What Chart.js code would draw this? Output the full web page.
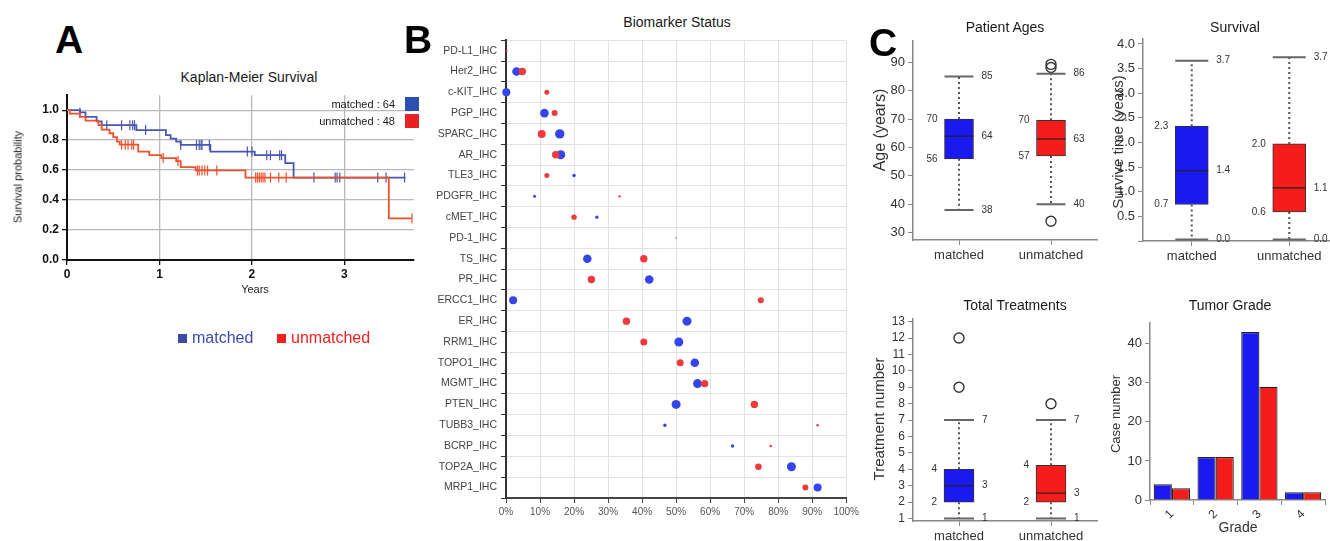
<!DOCTYPE html>
<html>
<head>
<meta charset="utf-8">
<script src="https://cdn.jsdelivr.net/npm/chart.js@4.4.1/dist/chart.umd.min.js"></script>
<style>
  body { margin: 0; width: 1330px; height: 541px; overflow: hidden; background: #fff; position: relative;
         font-family: "Liberation Sans", Arial, sans-serif; }
  canvas { position: absolute; }
  .t { position: absolute; white-space: nowrap; line-height: 1; transform: translate(-50%, -50%); color: #1a1a1a; }
  .r { transform: translate(-50%, -50%) rotate(-90deg); }
  .L { position: absolute; font-weight: bold; font-size: 39px; line-height: 1; color: #000; }
  .sq { position: absolute; }
</style>
</head>
<body>

<canvas id="km" width="420" height="215" style="left:0;top:85px"></canvas>
<canvas id="bio" width="442" height="511" style="left:420px;top:30px"></canvas>
<canvas id="age" width="235" height="240" style="left:870px;top:30px"></canvas>
<canvas id="surv" width="235" height="242" style="left:1105px;top:28px"></canvas>
<canvas id="trt" width="235" height="241" style="left:870px;top:309px"></canvas>
<canvas id="grade" width="225" height="232" style="left:1105px;top:309px"></canvas>

<!-- panel letters -->
<div class="L" style="left:55px;top:20px">A</div>
<div class="L" style="left:404px;top:20px">B</div>
<div class="L" style="left:869px;top:23px">C</div>

<!-- panel A text -->
<div class="t" style="left:249px;top:77px;font-size:14px">Kaplan-Meier Survival</div>
<div class="t r" style="left:18px;top:177px;font-size:11px">Survival probability</div>
<div class="t" style="left:255px;top:289px;font-size:11px">Years</div>
<div class="t" style="left:395px;top:104px;font-size:11px;transform:translate(-100%,-50%)">matched : 64</div>
<div class="t" style="left:395px;top:121px;font-size:11px;transform:translate(-100%,-50%)">unmatched : 48</div>
<div class="sq" style="left:405px;top:97px;width:14px;height:14px;background:#2d4fb0"></div>
<div class="sq" style="left:405px;top:114px;width:14px;height:14px;background:#e82222"></div>
<div class="sq" style="left:178px;top:334px;width:9px;height:9px;background:#3a4ca8"></div>
<div class="t" style="left:192px;top:338px;font-size:16px;color:#3a4ca8;transform:translateY(-50%)">matched</div>
<div class="sq" style="left:277px;top:334px;width:9px;height:9px;background:#ee2020"></div>
<div class="t" style="left:291px;top:338px;font-size:16px;color:#ee2020;transform:translateY(-50%)">unmatched</div>

<!-- panel B text -->
<div class="t" style="left:677px;top:22px;font-size:14px">Biomarker Status</div>

<!-- panel C text -->
<div class="t" style="left:1005px;top:27px;font-size:14px">Patient Ages</div>
<div class="t" style="left:1235px;top:27px;font-size:14px">Survival</div>
<div class="t" style="left:1015px;top:305px;font-size:14px">Total Treatments</div>
<div class="t" style="left:1230px;top:305px;font-size:14px">Tumor Grade</div>
<div class="t r" style="left:880px;top:130px;font-size:16px;color:#333">Age (years)</div>
<div class="t r" style="left:1117px;top:142px;font-size:15px;color:#333">Survive time (years)</div>
<div class="t r" style="left:878px;top:419px;font-size:15px;color:#333">Treatment number</div>
<div class="t r" style="left:1115px;top:414px;font-size:13px;color:#333">Case number</div>
<div class="t" style="left:1238px;top:527px;font-size:14px;color:#333">Grade</div>

<script>
// Kaplan-Meier step curves (years, survival probability)
const kmMatchedT = [0, 0.14, 0.2, 0.32, 0.375, 0.75, 1.07, 1.12, 1.18, 1.23, 1.55, 2.03, 2.36, 2.45, 3.66];
const kmMatchedS = [1.0, 0.985, 0.955, 0.925, 0.90, 0.867, 0.834, 0.81, 0.79, 0.768, 0.724, 0.70, 0.646, 0.55, 0.55];
const kmUnmatchedT = [0, 0.03, 0.14, 0.2, 0.34, 0.375, 0.46, 0.5, 0.54, 0.57, 0.77, 0.89, 1.02, 1.18, 1.23, 1.39, 1.93, 3.48, 3.73];
const kmUnmatchedS = [1.0, 0.977, 0.955, 0.93, 0.90, 0.87, 0.846, 0.82, 0.79, 0.77, 0.724, 0.70, 0.68, 0.66, 0.62, 0.598, 0.55, 0.278, 0.278];
const censorMatched = [0.14, 0.43, 0.59, 0.68, 0.71, 0.73, 0.85, 1.23, 1.40, 1.43, 1.45, 1.46, 1.54, 1.95, 2.0, 2.16, 2.2, 2.3, 2.32, 2.67, 2.9, 2.92, 2.95, 3.36, 3.45, 3.65];
const censorUnmatched = [0.59, 0.63, 0.66, 0.7, 0.72, 1.04, 1.2, 1.41, 1.43, 1.46, 1.49, 1.52, 1.62, 2.04, 2.06, 2.08, 2.1, 2.12, 2.14, 2.2, 2.29, 2.37, 3.73];

// Biomarker status (% positive, bubble size)
const markers = ['PD-L1_IHC', 'Her2_IHC', 'c-KIT_IHC', 'PGP_IHC', 'SPARC_IHC', 'AR_IHC', 'TLE3_IHC', 'PDGFR_IHC',
  'cMET_IHC', 'PD-1_IHC', 'TS_IHC', 'PR_IHC', 'ERCC1_IHC', 'ER_IHC', 'RRM1_IHC', 'TOPO1_IHC', 'MGMT_IHC',
  'PTEN_IHC', 'TUBB3_IHC', 'BCRP_IHC', 'TOP2A_IHC', 'MRP1_IHC'];
const matchedPct = [0, 3.1, 0.1, 11.3, 15.8, 16.1, 20, 8.4, 26.7, 50, 23.9, 42.1, 2.1, 53.2, 50.8, 55.5, 56.3, 50, 46.7, 66.6, 83.9, 91.6];
const matchedSize = [0, 4.3, 4, 4.3, 4.7, 4.5, 1.7, 1.5, 1.7, 0, 4.3, 4.3, 4, 4.5, 4.5, 4.3, 4.5, 4.5, 1.7, 1.7, 4.5, 4];
const unmatchedPct = [0.2, 4.8, 12, 14.3, 10.5, 14.6, 12, 33.4, 20, 50, 40.5, 25.1, 74.9, 35.4, 40.5, 51.2, 58.4, 73, 91.6, 77.8, 74.2, 88];
const unmatchedSize = [1, 3.7, 2.5, 3, 4, 3.7, 2.5, 1.2, 2.7, 0.8, 3.7, 3.7, 3, 3.7, 3.5, 3.5, 3.7, 3.7, 1.3, 1.3, 3.3, 3];

// Box plot groups
const groups = ['matched', 'unmatched'];
const ageLo = [38, 40], ageQ1 = [56, 57], ageMed = [64, 63], ageQ3 = [70, 69.6], ageHi = [85, 86];
const ageOut = [[], [89.3, 88.2, 34]];
const survLo = [0.03, 0.03], survQ1 = [0.74, 0.59], survMed = [1.43, 1.08], survQ3 = [2.33, 1.97], survHi = [3.66, 3.73];
const survOut = [[], []];
const trtLo = [1, 1], trtQ1 = [2, 2], trtMed = [3, 2.55], trtQ3 = [4, 4.25], trtHi = [7, 7];
const trtOut = [[9, 12], [8]];

// Tumor grade counts
const grades = ['1', '2', '3', '4'];
const gradeMatched = [4, 11, 43, 2];
const gradeUnmatched = [3, 11, 29, 2];

Chart.defaults.font.family = '"Liberation Sans", Arial, sans-serif';
Chart.defaults.animation = false;
Chart.defaults.responsive = false;
Chart.defaults.plugins.legend.display = false;
Chart.defaults.plugins.tooltip.enabled = false;

const kmBlue = '#4657b3', kmRed = '#f0502d';
const dotBlue = '#3644ee', dotRed = '#f03a3a';
const boxBlue = '#1a1af0', boxRed = '#f51c1c';

function survAt(T, S, t) {
  let s = S[0];
  for (let i = 0; i < T.length; i++) if (T[i] <= t) s = S[i];
  return s;
}
const steps = (T, S) => T.map((t, i) => ({ x: t, y: S[i] }));
const marks = (C, T, S) => C.map(t => ({ x: t, y: survAt(T, S, t) }));

// ---- A: Kaplan-Meier ----
const kmTicks = { color: '#111', font: { size: 12, weight: 'bold' }, includeBounds: false, maxTicksLimit: 20 };
new Chart(document.getElementById('km'), {
  type: 'scatter',
  data: {
    datasets: [
      { data: marks(censorUnmatched, kmUnmatchedT, kmUnmatchedS), pointStyle: 'line', pointRotation: 90,
        pointRadius: 5, pointBorderColor: kmRed, pointBorderWidth: 1.2, showLine: false },
      { data: steps(kmUnmatchedT, kmUnmatchedS), showLine: true, stepped: 'before', borderColor: kmRed,
        borderWidth: 1.8, pointRadius: 0 },
      { data: marks(censorMatched, kmMatchedT, kmMatchedS), pointStyle: 'line', pointRotation: 90,
        pointRadius: 5, pointBorderColor: kmBlue, pointBorderWidth: 1.2, showLine: false },
      { data: steps(kmMatchedT, kmMatchedS), showLine: true, stepped: 'before', borderColor: kmBlue,
        borderWidth: 1.8, pointRadius: 0 }
    ]
  },
  options: {
    layout: { padding: { top: 10, right: 5 } },
    scales: {
      x: { type: 'linear', min: 0, max: 3.75, afterFit: s => { s.height = 40; },
           ticks: { ...kmTicks, stepSize: 1, padding: 2 },
           grid: { color: '#b8b8b8', lineWidth: 1.3, tickColor: '#111', tickLength: 5 },
           border: { color: '#111', width: 2 } },
      y: { min: 0, max: 1.1, afterFit: s => { s.width = 67; },
           ticks: { ...kmTicks, stepSize: 0.2, padding: 3, callback: v => v.toFixed(1) },
           grid: { color: '#b8b8b8', lineWidth: 1.3, tickColor: '#111', tickLength: 5 },
           border: { color: '#111', width: 2 } }
    }
  }
});

// ---- B: Biomarker bubbles ----
const bubbles = (pct, size) => markers
  .map((m, i) => ({ x: pct[i], y: m, r: size[i] }))
  .filter(p => p.r > 0);
new Chart(document.getElementById('bio'), {
  type: 'bubble',
  data: {
    datasets: [
      { data: bubbles(unmatchedPct, unmatchedSize), backgroundColor: dotRed, borderWidth: 0, clip: false },
      { data: bubbles(matchedPct, matchedSize), backgroundColor: dotBlue, borderWidth: 0, clip: false }
    ]
  },
  options: {
    layout: { padding: { top: 10, right: 14 } },
    scales: {
      x: { type: 'linear', min: 0, max: 100, afterFit: s => { s.height = 43; },
           ticks: { stepSize: 10, callback: v => v + '%', color: '#555', font: { size: 10 }, padding: 3 },
           grid: { color: '#e2e2e2', tickColor: '#444', tickLength: 5 },
           border: { color: '#444', width: 2 } },
      y: { type: 'category', labels: markers, offset: true, afterFit: s => { s.width = 86; },
           ticks: { color: '#444', font: { size: 10.5 }, padding: 4, autoSkip: false },
           grid: { offset: true, color: '#e2e2e2', tickColor: '#333', tickLength: 5 },
           border: { color: '#333', width: 2 } }
    }
  }
});

// ---- C: box plots ----
function whiskers(lo, q1, med, q3, hi, digits) {
  const fmt = v => digits ? v.toFixed(digits) : String(Math.round(v));
  return {
    id: 'whiskers',
    afterDatasetsDraw(chart) {
      const { ctx } = chart;
      const y = chart.scales.y;
      ctx.save();
      chart.getDatasetMeta(0).data.forEach((bar, i) => {
        const x = bar.x, hw = bar.width / 2;
        const pLo = y.getPixelForValue(lo[i]), pHi = y.getPixelForValue(hi[i]);
        const pQ1 = y.getPixelForValue(q1[i]), pQ3 = y.getPixelForValue(q3[i]);
        const pMed = y.getPixelForValue(med[i]);
        ctx.strokeStyle = '#555';
        ctx.lineWidth = 2;
        ctx.setLineDash([2, 3]);
        ctx.beginPath();
        ctx.moveTo(x, pQ3); ctx.lineTo(x, pHi);
        ctx.moveTo(x, pQ1); ctx.lineTo(x, pLo);
        ctx.stroke();
        ctx.setLineDash([]);
        ctx.strokeStyle = '#666';
        ctx.beginPath();
        ctx.moveTo(x - hw, pHi); ctx.lineTo(x + hw, pHi);
        ctx.moveTo(x - hw, pLo); ctx.lineTo(x + hw, pLo);
        ctx.stroke();
        ctx.strokeStyle = '#222';
        ctx.lineWidth = 1.2;
        ctx.beginPath();
        ctx.moveTo(x - hw, pMed); ctx.lineTo(x + hw, pMed);
        ctx.stroke();
        ctx.fillStyle = '#333';
        ctx.font = '10px "Liberation Sans", Arial, sans-serif';
        ctx.textBaseline = 'middle';
        ctx.textAlign = 'right';
        ctx.fillText(fmt(q3[i]), x - hw - 7, pQ3);
        ctx.fillText(fmt(q1[i]), x - hw - 7, pQ1);
        ctx.textAlign = 'left';
        ctx.fillText(fmt(med[i]), x + hw + 8, pMed);
        ctx.fillText(fmt(hi[i]), x + hw + 8, pHi);
        ctx.fillText(fmt(lo[i]), x + hw + 8, pLo);
      });
      ctx.restore();
    }
  };
}

function boxChart(id, lo, q1, med, q3, hi, outl, yScale, digits, barW, pad, yW, xH) {
  const outPts = [];
  groups.forEach((g, i) => outl[i].forEach(v => outPts.push({ x: g, y: v })));
  return new Chart(document.getElementById(id), {
    type: 'bar',
    data: {
      labels: groups,
      datasets: [
        { data: groups.map((g, i) => [q1[i], q3[i]]), backgroundColor: [boxBlue, boxRed],
          borderColor: '#333', borderWidth: 1, borderSkipped: false, barThickness: barW },
        { type: 'line', data: outPts, showLine: false, pointRadius: 5,
          pointBackgroundColor: 'rgba(0,0,0,0)', pointBorderColor: '#333', pointBorderWidth: 1.4 }
      ]
    },
    options: {
      layout: { padding: pad },
      scales: {
        x: { afterFit: s => { s.height = xH; },
             ticks: { color: '#333', font: { size: 13 }, padding: 3 },
             grid: { offset: false, drawOnChartArea: false, color: '#888', tickLength: 5 },
             border: { color: '#888', width: 1.5 } },
        y: { ...yScale, afterFit: s => { s.width = yW; },
             grid: { drawOnChartArea: false, color: '#888', tickLength: 5 },
             border: { color: '#888', width: 1.5 } }
      }
    },
    plugins: [whiskers(lo, q1, med, q3, hi, digits)]
  });
}

const cTicks = { color: '#333', font: { size: 13 }, includeBounds: false, maxTicksLimit: 20, autoSkip: false, padding: 3 };
boxChart('age', ageLo, ageQ1, ageMed, ageQ3, ageHi, ageOut,
  { min: 27.4, max: 97.6, ticks: { ...cTicks, stepSize: 10 } }, 0, 29, { top: 10, right: 8 }, 43, 30);
boxChart('surv', survLo, survQ1, survMed, survQ3, survHi, survOut,
  { min: 0, max: 4.1, ticks: { ...cTicks, stepSize: 0.5, callback: v => v === 0 ? '' : v.toFixed(1) } },
  1, 33, { top: 11, right: 2 }, 38, 29);
boxChart('trt', trtLo, trtQ1, trtMed, trtQ3, trtHi, trtOut,
  { min: 0.85, max: 13.15, ticks: { ...cTicks, stepSize: 1, font: { size: 12 } } }, 0, 30, { top: 10, right: 8 }, 43, 29);

// ---- C: tumor grade bars ----
new Chart(document.getElementById('grade'), {
  type: 'bar',
  data: {
    labels: grades,
    datasets: [
      { data: gradeMatched, backgroundColor: boxBlue, borderColor: '#222', borderWidth: 1.2,
        categoryPercentage: 0.83, barPercentage: 1.0 },
      { data: gradeUnmatched, backgroundColor: boxRed, borderColor: '#222', borderWidth: 1.2,
        categoryPercentage: 0.83, barPercentage: 1.0 }
    ]
  },
  options: {
    layout: { padding: { top: 14, right: 5 } },
    scales: {
      x: { afterFit: s => { s.height = 41; },
           ticks: { color: '#333', font: { size: 12 }, minRotation: 45, maxRotation: 45, autoSkip: false, padding: 2 },
           grid: { drawOnChartArea: false, color: '#888', tickLength: 5 },
           border: { color: '#888', width: 1.5 } },
      y: { min: 0, max: 45.3, afterFit: s => { s.width = 45; },
           ticks: { ...cTicks, stepSize: 10 },
           grid: { drawOnChartArea: false, color: '#888', tickLength: 5 },
           border: { color: '#888', width: 1.5 } }
    }
  }
});
</script>
</body>
</html>
